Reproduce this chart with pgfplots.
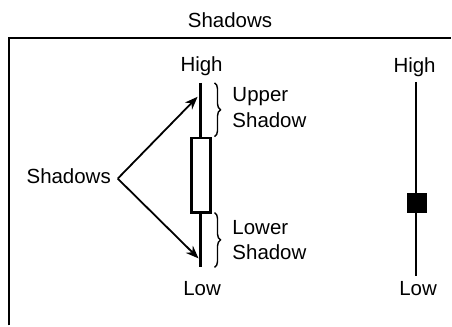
\documentclass[border=0pt]{standalone}
\usepackage{pgfplots}
\pgfplotsset{compat=1.18}
\usepackage{fontspec}
\setmainfont{Liberation Sans}
\usetikzlibrary{arrows.meta,decorations.pathreplacing}
\tikzset{lbl/.style={font=\fontsize{20.5}{24}\selectfont, inner sep=0pt, outer sep=0pt}}
\begin{document}
\begin{tikzpicture}
\begin{axis}[x=1pt, y=1pt, y dir=reverse,
  xmin=0, xmax=452, ymin=0, ymax=326,
  hide axis, clip=false]
\path (axis cs:0,0) rectangle (axis cs:452,326);
% frame (right and bottom edges fall outside the picture)
\draw[line width=2pt, black] (axis cs:9,326) -- (axis cs:9,38) -- (axis cs:452,38);
% left candlestick
\addplot[black, line width=2.4pt, mark=none] coordinates {(201,83) (201,138)};
\addplot[black, line width=2.4pt, mark=none] coordinates {(201,213) (201,268)};
\addplot[draw=black, line width=2.2pt, fill=white, mark=none] coordinates {(192,138) (211,138) (211,213) (192,213)} -- cycle;
% right candlestick
\addplot[black, line width=2.8pt, mark=none] coordinates {(417,82) (417,277)};
\addplot[draw=black, line width=1pt, fill=black, mark=none] coordinates {(408,194) (427,194) (427,213) (408,213)} -- cycle;
% braces
\draw[line width=1.4pt, decorate, decoration={brace, amplitude=6pt}] (axis cs:215,83) -- (axis cs:215,137);
\draw[line width=1.4pt, decorate, decoration={brace, amplitude=6pt}] (axis cs:215,213) -- (axis cs:215,268);
% arrows
\draw[line width=1.8pt, -{Stealth[length=13pt, width=10pt]}] (axis cs:118,179) -- (axis cs:198,97);
\draw[line width=1.8pt, -{Stealth[length=13pt, width=10pt]}] (axis cs:118,179) -- (axis cs:199,259);
% texts
\node[lbl, anchor=base] at (axis cs:230.5,27.5) {Shadows};
\node[lbl, anchor=base] at (axis cs:202,72) {High};
\node[lbl, anchor=base] at (axis cs:202.5,296) {Low};
\node[lbl, anchor=base] at (axis cs:415.5,73) {High};
\node[lbl, anchor=base] at (axis cs:419,296) {Low};
\node[lbl, anchor=base east] at (axis cs:111,184) {Shadows};
\node[lbl, anchor=base west] at (axis cs:233,102) {Upper};
\node[lbl, anchor=base west] at (axis cs:233,128) {Shadow};
\node[lbl, anchor=base west] at (axis cs:233,235) {Lower};
\node[lbl, anchor=base west] at (axis cs:233,260) {Shadow};
\end{axis}
\end{tikzpicture}
\end{document}
